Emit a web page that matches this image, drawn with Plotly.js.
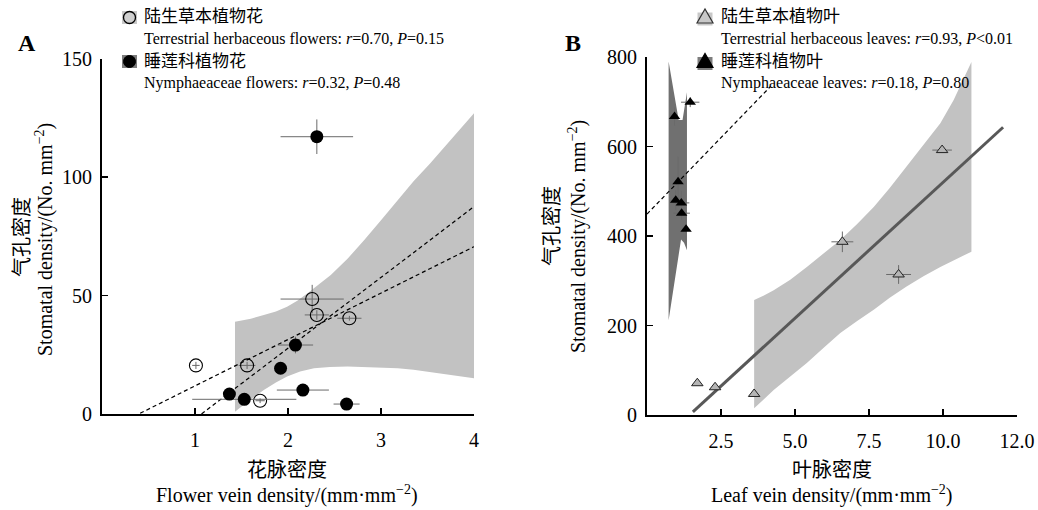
<!DOCTYPE html>
<html>
<head>
<meta charset="utf-8">
<script src="https://cdn.plot.ly/plotly-3.0.1.min.js"></script>
<style>html,body{margin:0;padding:0;background:#fff;}#chart{width:1038px;height:510px;}</style>
</head>
<body>
<div id="chart"></div>
<script>
// ---------- Panel A: flowers ----------
const flowerTerrX = [1.01, 1.56, 1.70, 2.26, 2.31, 2.66];
const flowerTerrY = [20.5, 20.5, 5.6, 48.5, 41.8, 40.4];
const flowerTerrXErr = [0.04, 0.09, 0.05, 0.34, 0.13, 0.13];
const flowerTerrYErr = [1.5, 1.5, 1.0, 6.0, 2.0, 1.0];

const flowerNymX = [2.31, 2.08, 1.92, 2.16, 1.37, 1.53, 2.63];
const flowerNymY = [117, 29.1, 19.3, 10.1, 8.4, 6.2, 4.2];
const flowerNymXErr = [0.39, 0.19, 0.05, 0.28, 0.05, 0.56, 0.14];
const flowerNymYErr = [7.3, 3.5, 1.0, 1.0, 1.0, 1.0, 1.0];

const flowerBandUpperX = [1.43, 1.60, 1.74, 1.87, 1.99, 2.10, 2.21, 2.33, 2.46, 2.64, 2.82, 3.00, 3.18, 3.35, 3.53, 3.76, 4.00];
const flowerBandUpperY = [38.9, 40.2, 41.8, 43.3, 45.3, 47.8, 50.9, 54.5, 58.6, 65.5, 73.4, 81.8, 90.3, 98.2, 105.8, 116.0, 126.9];
const flowerBandLowerX = [4.00, 3.76, 3.53, 3.35, 3.18, 2.90, 2.64, 2.45, 2.28, 2.13, 1.99, 1.87, 1.74, 1.60, 1.43];
const flowerBandLowerY = [15.1, 16.5, 17.9, 18.7, 19.3, 19.8, 20.0, 19.8, 19.3, 17.9, 15.8, 13.3, 10.1, 6.2, 1.0];

const flowerTerrFitX = [1.07, 4.0];
const flowerTerrFitY = [0, 87.5];
const flowerNymFitX = [0.41, 4.0];
const flowerNymFitY = [0.3, 70.6];

const flowerXTicks = [1, 2, 3, 4];
const flowerYTicks = [0, 50, 100, 150];

// ---------- Panel B: leaves ----------
const leafTerrX = [1.7, 2.3, 3.62, 6.6, 8.5, 9.97];
const leafTerrY = [71, 62, 47, 387, 314, 592];
const leafTerrXErr = [0, 0, 0, 0.37, 0.42, 0.33];
const leafTerrYErr = [0, 0, 0, 23, 21, 3];

const leafNymX = [0.93, 1.46, 1.05, 0.97, 1.16, 1.17, 1.32];
const leafNymY = [667, 699, 521, 480, 474, 451, 415];
const leafNymXErr = [0.03, 0.31, 0.03, 0.03, 0.27, 0.28, 0.03];
const leafNymYErr = [20, 11, 56, 22, 27, 15, 35];

const leafBandUpperX = [3.62, 3.95, 4.28, 4.84, 5.40, 5.96, 6.53, 7.10, 7.66, 8.20, 8.77, 9.34, 9.91, 10.36, 10.96];
const leafBandUpperY = [257, 267, 279, 302, 331, 360, 391, 427, 465, 507, 555, 602, 652, 704, 789];
const leafBandLowerX = [10.96, 10.44, 9.91, 9.34, 8.77, 8.20, 7.66, 7.10, 6.53, 5.96, 5.40, 4.84, 4.28, 3.95, 3.62];
const leafBandLowerY = [365, 349, 331, 310, 287, 262, 235, 210, 183, 150, 116, 86, 56, 35, 15];

const leafNymBandX = [0.73, 1.07, 1.20, 1.35, 1.35, 1.25, 1.15, 0.73];
const leafNymBandY = [790, 659, 659, 721, 368, 385, 392, 212];

const leafTerrFitX = [1.55, 12.03];
const leafTerrFitY = [7, 643];
const leafNymFitX = [0, 4.17];
const leafNymFitY = [449, 734];

const leafXTicks = [2.5, 5.0, 7.5, 10.0, 12.5];
const leafXTickText = ['2.5', '5.0', '7.5', '10.0', '12.0'];
const leafYTicks = [0, 200, 400, 600, 800];

// ---------- Texts ----------
const legendA = ['陆生草本植物花', 'Terrestrial herbaceous flowers: <i>r</i>=0.70, <i>P</i>=0.15',
                 '睡莲科植物花', 'Nymphaeaceae flowers: <i>r</i>=0.32, <i>P</i>=0.48'];
const legendB = ['陆生草本植物叶', 'Terrestrial herbaceous leaves: <i>r</i>=0.93, <i>P</i>&lt;0.01',
                 '睡莲科植物叶', 'Nymphaeaceae leaves: <i>r</i>=0.18, <i>P</i>=0.80'];
const yTitleCn = '气孔密度';
const yTitleEn = 'Stomatal density/(No. mm<sup>−2</sup>)';
const xTitleACn = '花脉密度';
const xTitleAEn = 'Flower vein density/(mm·mm<sup>−2</sup>)';
const xTitleBCn = '叶脉密度';
const xTitleBEn = 'Leaf vein density/(mm·mm<sup>−2</sup>)';

// ---------- Build ----------
const W = 1038, H = 510;
const FONT = 'Liberation Serif, Times New Roman, Noto Sans CJK SC, serif';
const px = v => v / W;
const py = v => 1 - v / H;

const errStyle = (arr) => ({type: 'data', array: arr, visible: true, color: '#6a6a6a', thickness: 1, width: 0});

const traces = [
  // Panel A band
  {x: flowerBandUpperX.concat(flowerBandLowerX), y: flowerBandUpperY.concat(flowerBandLowerY),
   xaxis: 'x', yaxis: 'y', mode: 'lines', fill: 'toself', fillcolor: '#c2c2c2', line: {width: 0}, hoverinfo: 'skip'},
  {x: flowerTerrFitX, y: flowerTerrFitY, xaxis: 'x', yaxis: 'y', mode: 'lines',
   line: {color: '#000', width: 1.2, dash: '4px,3px'}},
  {x: flowerNymFitX, y: flowerNymFitY, xaxis: 'x', yaxis: 'y', mode: 'lines',
   line: {color: '#000', width: 1.2, dash: '4px,3px'}},
  {x: flowerTerrX, y: flowerTerrY, xaxis: 'x', yaxis: 'y', mode: 'markers',
   error_x: errStyle(flowerTerrXErr), error_y: errStyle(flowerTerrYErr),
   marker: {symbol: 'circle-open', size: 13, color: '#000', line: {width: 1.1, color: '#000'}}},
  {x: flowerNymX, y: flowerNymY, xaxis: 'x', yaxis: 'y', mode: 'markers',
   error_x: errStyle(flowerNymXErr), error_y: errStyle(flowerNymYErr),
   marker: {symbol: 'circle', size: 13, color: '#000'}},

  // Panel B
  {x: leafBandUpperX.concat(leafBandLowerX), y: leafBandUpperY.concat(leafBandLowerY),
   xaxis: 'x2', yaxis: 'y2', mode: 'lines', fill: 'toself', fillcolor: '#c2c2c2', line: {width: 0}, hoverinfo: 'skip'},
  {x: leafNymBandX, y: leafNymBandY, xaxis: 'x2', yaxis: 'y2', mode: 'lines', fill: 'toself',
   fillcolor: '#707070', line: {width: 0}, hoverinfo: 'skip'},
  {x: leafNymFitX, y: leafNymFitY, xaxis: 'x2', yaxis: 'y2', mode: 'lines',
   line: {color: '#000', width: 1.2, dash: '4px,3px'}},
  {x: leafTerrFitX, y: leafTerrFitY, xaxis: 'x2', yaxis: 'y2', mode: 'lines',
   line: {color: '#585858', width: 3}},
  {x: leafTerrX, y: leafTerrY, xaxis: 'x2', yaxis: 'y2', mode: 'markers',
   error_x: errStyle(leafTerrXErr), error_y: errStyle(leafTerrYErr),
   marker: {symbol: 'triangle-up', size: 10, color: '#b5b5b5', line: {width: 1, color: '#222'}}},
  {x: leafNymX, y: leafNymY, xaxis: 'x2', yaxis: 'y2', mode: 'markers',
   error_x: errStyle(leafNymXErr), error_y: errStyle(leafNymYErr),
   marker: {symbol: 'triangle-up', size: 10, color: '#000'}}
];

const axisCommon = {
  showline: true, linecolor: '#000', linewidth: 2, ticks: 'inside', ticklen: 6, tickwidth: 1.5,
  tickcolor: '#000', showgrid: false, zeroline: false, tickfont: {family: FONT, size: 20, color: '#000'},
  fixedrange: true
};

const layout = {
  width: W, height: H, margin: {l: 0, r: 0, t: 0, b: 0},
  paper_bgcolor: '#fff', plot_bgcolor: 'rgba(0,0,0,0)', showlegend: false,
  xaxis: Object.assign({}, axisCommon, {domain: [px(102), px(474)], range: [0, 4],
    tickmode: 'array', tickvals: flowerXTicks, anchor: 'y', ticklabelstandoff: 7}),
  yaxis: Object.assign({}, axisCommon, {domain: [py(414), py(58.5)], range: [0, 150],
    tickmode: 'array', tickvals: flowerYTicks, anchor: 'x', ticklabelstandoff: 4}),
  xaxis2: Object.assign({}, axisCommon, {domain: [px(647), px(1017)], range: [0, 12.5],
    tickmode: 'array', tickvals: leafXTicks, ticktext: leafXTickText, anchor: 'y2', ticklabelstandoff: 7}),
  yaxis2: Object.assign({}, axisCommon, {domain: [py(415), py(57)], range: [0, 800],
    tickmode: 'array', tickvals: leafYTicks, anchor: 'x2', ticklabelstandoff: 4}),
  shapes: [],
  annotations: []
};

function ann(text, x, y, size, opts) {
  return Object.assign({text: text, x: px(x), y: py(y), xref: 'paper', yref: 'paper', showarrow: false,
    xanchor: 'left', yanchor: 'middle', font: {family: FONT, size: size, color: '#000'}}, opts || {});
}

// legend texts
const legYs = [16, 38.5, 61, 83];
const legSizes = [17, 16, 17, 16];
legendA.forEach((t, i) => layout.annotations.push(ann(t, 142, legYs[i], legSizes[i])));
legendB.forEach((t, i) => layout.annotations.push(ann(t, 719, legYs[i], legSizes[i])));

// panel letters
layout.annotations.push(ann('<b>A</b>', 27, 43, 24, {xanchor: 'center'}));
layout.annotations.push(ann('<b>B</b>', 573, 43, 24, {xanchor: 'center'}));

// axis titles (one annotation per line)
const rot = {xanchor: 'center', textangle: -90};
layout.annotations.push(ann(yTitleCn, 22, 237, 20, rot));
layout.annotations.push(ann(yTitleEn, 44, 240, 20, rot));
layout.annotations.push(ann(yTitleCn, 552, 226, 20, rot));
layout.annotations.push(ann(yTitleEn, 577, 237, 20, rot));
layout.annotations.push(ann(xTitleACn, 287, 470, 20, {xanchor: 'center'}));
layout.annotations.push(ann(xTitleAEn, 287, 494, 20, {xanchor: 'center'}));
layout.annotations.push(ann(xTitleBCn, 832, 470, 20, {xanchor: 'center'}));
layout.annotations.push(ann(xTitleBEn, 832, 494, 20, {xanchor: 'center'}));

// legend symbol boxes
function pixShape(type, cx, cy, x0, y0, x1, y1, fill, line) {
  return {type: type, xref: 'paper', yref: 'paper', xsizemode: 'pixel', ysizemode: 'pixel',
    xanchor: px(cx), yanchor: py(cy), x0: x0, x1: x1, y0: y0, y1: y1,
    fillcolor: fill, line: line, layer: 'above'};
}
function triShape(cx, cy, fill, lineColor) {
  return {type: 'path', xref: 'paper', yref: 'paper', xsizemode: 'pixel', ysizemode: 'pixel',
    xanchor: px(cx), yanchor: py(cy), path: 'M -8,-6 L 8,-6 L 0,8 Z',
    fillcolor: fill, line: {color: lineColor, width: 1.2}, layer: 'above'};
}
// Panel A
layout.shapes.push(pixShape('rect', 129.5, 17.5, -7.5, -6.5, 7.5, 6.5, '#c8c8c8', {width: 0}));
layout.shapes.push(pixShape('circle', 129.5, 17.5, -6, -6, 6, 6, '#cfcfcf', {color: '#000', width: 1.3}));
layout.shapes.push(pixShape('rect', 129.5, 61.5, -7.5, -6.5, 7.5, 6.5, '#7d7d7d', {width: 0}));
layout.shapes.push(pixShape('circle', 129.5, 61.5, -6, -6, 6, 6, '#000', {color: '#000', width: 1}));
// Panel B
layout.shapes.push(pixShape('rect', 705, 19, -7.5, -6.5, 7.5, 6.5, '#c8c8c8', {width: 0}));
layout.shapes.push(triShape(705, 17, '#c8c8c8', '#333'));
layout.shapes.push(pixShape('rect', 705, 63.5, -7.5, -6.5, 7.5, 6.5, '#7d7d7d', {width: 0}));
layout.shapes.push(triShape(705, 61.5, '#000', '#000'));

Plotly.newPlot('chart', traces, layout, {displayModeBar: false, staticPlot: true});
</script>
</body>
</html>
